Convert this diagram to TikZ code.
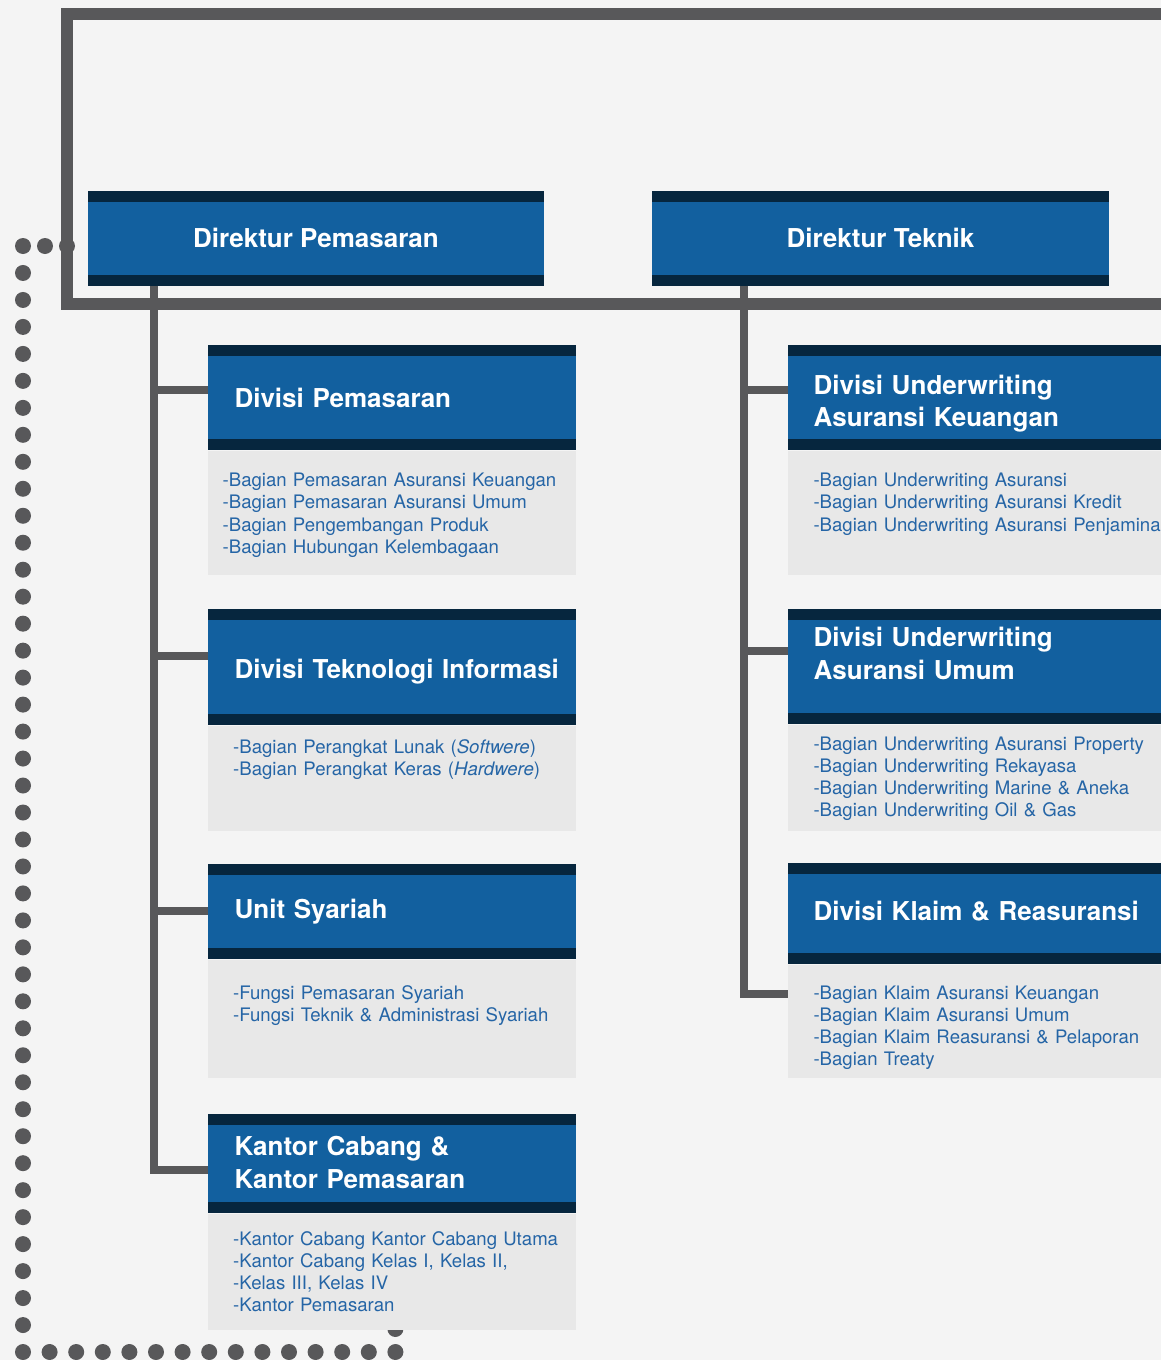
\documentclass[tikz,border=0pt]{standalone}
\usepackage{fontspec}
\setmainfont{TeX Gyre Heros}
\definecolor{bgc}{HTML}{F4F4F4}
\definecolor{lgrey}{HTML}{58585A}
\definecolor{hblue}{HTML}{12609F}
\definecolor{hdark}{HTML}{06263E}
\definecolor{bgrey}{HTML}{E8E8E8}
\definecolor{tblue}{HTML}{2565A6}
\tikzset{
  hdr/.style={rectangle, fill=hblue, draw=none, inner sep=0pt, anchor=north west,
    path picture={
      \fill[hdark] (path picture bounding box.north west) rectangle ([yshift=-11pt]path picture bounding box.north east);
      \fill[hdark] (path picture bounding box.south west) rectangle ([yshift=11pt]path picture bounding box.south east);
    }},
  bodybox/.style={rectangle, fill=bgrey, draw=none, inner sep=0pt, anchor=north west},
  ttl/.style={text=white, font=\fontsize{26}{32.3}\selectfont\bfseries, inner sep=0pt, text width=345pt, align=left, anchor=base west},
  dtl/.style={text=white, font=\fontsize{26}{32}\selectfont\bfseries, inner sep=0pt, anchor=base},
  itm/.style={text=tblue, font=\fontsize{18.6}{22.2}\selectfont, inner sep=0pt, text width=400pt, align=left, anchor=base west},
  conn/.style={draw=lgrey, line width=8pt, line join=miter},
  frameline/.style={draw=lgrey, line width=12pt, line join=miter},
  dotc/.style={fill=lgrey}
}
\begin{document}
\begin{tikzpicture}[x=1pt,y=-1pt]
\fill[bgc] (0,0) rectangle (1161,1360);
\useasboundingbox (0,0) rectangle (1161,1360);

% dotted border
\foreach \i in {0,...,41} \fill[dotc] (23,246+\i*26.976) circle (8pt);
\fill[dotc] (45,246) circle (8pt);
\fill[dotc] (67,246) circle (8pt);
\foreach \i in {1,...,14} \fill[dotc] (23+\i*26.6,1352) circle (8pt);
\fill[dotc] (395.4,1329) circle (8pt);

% outer frame
\coordinate (ftr) at (1161,13.5);
\coordinate (ftl) at (67,13.5);
\coordinate (fbl) at (67,304);
\coordinate (fbr) at (1161,304);
\draw[frameline] (ftr) -- (ftl) -- (fbl) -- (fbr);

% directors
\node[hdr, minimum width=456pt, minimum height=95pt] (dirP) at (88,191) {};
\node[hdr, minimum width=457pt, minimum height=95pt] (dirT) at (652,191) {};
\node[dtl] (dirPt) at (316,247.4) {Direktur Pemasaran};
\node[dtl] (dirTt) at (880.5,247.4) {Direktur Teknik};

% left column cards
\node[hdr, minimum width=368pt, minimum height=105pt] (dpm) at (208,345) {};
\node[bodybox, minimum width=368pt, minimum height=124pt] (dpmb) at (dpm.south west) {};
\node[hdr, minimum width=368pt, minimum height=116pt] (ti) at (208,609) {};
\node[bodybox, minimum width=368pt, minimum height=105pt] (tib) at (ti.south west) {};
\node[hdr, minimum width=368pt, minimum height=95pt] (sy) at (208,864) {};
\node[bodybox, minimum width=368pt, minimum height=118pt] (syb) at (sy.south west) {};
\node[hdr, minimum width=368pt, minimum height=99pt] (kc) at (208,1114) {};
\node[bodybox, minimum width=368pt, minimum height=116pt] (kcb) at (kc.south west) {};

% right column cards
\node[hdr, minimum width=373pt, minimum height=105pt] (uwk) at (788,345) {};
\node[bodybox, minimum width=373pt, minimum height=124pt] (uwkb) at (uwk.south west) {};
\node[hdr, minimum width=373pt, minimum height=115pt] (uwu) at (788,609) {};
\node[bodybox, minimum width=373pt, minimum height=106pt] (uwub) at (uwu.south west) {};
\node[hdr, minimum width=373pt, minimum height=101pt] (kl) at (788,863) {};
\node[bodybox, minimum width=373pt, minimum height=113pt] (klb) at (kl.south west) {};

% titles
\node[ttl] (dpmt) at (234.3,407) {Divisi Pemasaran};
\node[ttl] (tit) at (234.3,678.3) {Divisi Teknologi Informasi};
\node[ttl] (syt) at (234.3,918.3) {Unit Syariah};
\node[ttl] (kct) at (234.3,1155.7) {Kantor Cabang \&\\Kantor Pemasaran};
\node[ttl] (uwkt) at (813.5,394.5) {Divisi Underwriting\\Asuransi Keuangan};
\node[ttl] (uwut) at (813.5,646.7) {Divisi Underwriting\\Asuransi Umum};
\node[ttl] (klt) at (813.5,920.3) {Divisi Klaim \& Reasuransi};

% items
\node[itm] (dpmi) at (222.5,486.7) {-Bagian Pemasaran Asuransi Keuangan\\-Bagian Pemasaran Asuransi Umum\\-Bagian Pengembangan Produk\\-Bagian Hubungan Kelembagaan};
\node[itm] (tii) at (233,753.7) {-Bagian Perangkat Lunak (\textit{Softwere})\\-Bagian Perangkat Keras (\textit{Hardwere})};
\node[itm] (syi) at (233,999.7) {-Fungsi Pemasaran Syariah\\-Fungsi Teknik \& Administrasi Syariah};
\node[itm] (kci) at (233,1245) {-Kantor Cabang Kantor Cabang Utama\\-Kantor Cabang Kelas I, Kelas II,\\-Kelas III, Kelas IV\\-Kantor Pemasaran};
\node[itm] (uwki) at (813.3,486.7) {-Bagian Underwriting Asuransi\\-Bagian Underwriting Asuransi Kredit\\-Bagian Underwriting Asuransi Penjamina};
\node[itm] (uwui) at (813.3,750) {-Bagian Underwriting Asuransi Property\\-Bagian Underwriting Rekayasa\\-Bagian Underwriting Marine \& Aneka\\-Bagian Underwriting Oil \& Gas};
\node[itm] (kli) at (813.3,999) {-Bagian Klaim Asuransi Keuangan\\-Bagian Klaim Asuransi Umum\\-Bagian Klaim Reasuransi \& Pelaporan\\-Bagian Treaty};

% connectors
\coordinate (lt) at ([xshift=66pt]dirP.south west);
\coordinate (rt) at ([xshift=92pt]dirT.south west);
\draw[conn] (lt) |- ([yshift=-6pt]kc.west);
\draw[conn] ([yshift=8pt]dpm.west -| lt) -- ([yshift=8pt]dpm.west);
\draw[conn] ([yshift=11pt]ti.west -| lt) -- ([yshift=11pt]ti.west);
\draw[conn] ([yshift=0.5pt]sy.west -| lt) -- ([yshift=0.5pt]sy.west);
\draw[conn] (rt) |- ([yshift=27.5pt]klb.west);
\draw[conn] ([yshift=8pt]uwk.west -| rt) -- ([yshift=8pt]uwk.west);
\draw[conn] ([yshift=15.5pt]uwu.west -| rt) -- ([yshift=15.5pt]uwu.west);
\end{tikzpicture}
\end{document}
